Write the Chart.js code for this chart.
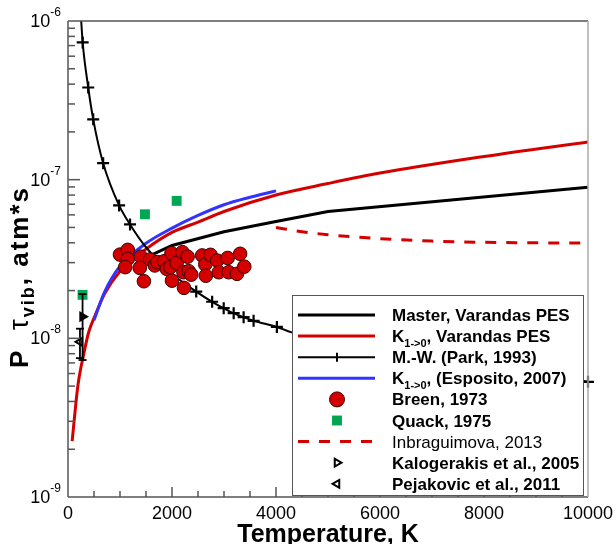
<!DOCTYPE html>
<html>
<head>
<meta charset="utf-8">
<script src="https://cdn.jsdelivr.net/npm/chart.js@4"></script>
<style>
body { margin: 0; background: #fff; }
canvas { display: block; }
</style>
</head>
<body>
<canvas id="chart" width="616" height="544"></canvas>
<script>
// Master equation, Varandas PES
const masterT = [1600, 2000, 3000, 4000, 5000, 10000];
const masterP = [3.35e-8, 3.85e-8, 4.7e-8, 5.45e-8, 6.3e-8, 8.97e-8];

// K1->0, Varandas PES
const kVarT = [80, 150, 200, 300, 400, 500, 700, 1000, 1500, 2000, 2500, 3000, 4000, 5000, 6000, 8000, 10000];
const kVarP = [2.25e-9, 3.85e-9, 5.3e-9, 7.9e-9, 1.1e-8, 1.34e-8, 1.9e-8, 2.65e-8, 3.65e-8, 4.65e-8, 5.4e-8, 6.3e-8, 8.0e-8, 9.45e-8, 1.1e-7, 1.4e-7, 1.73e-7];

// Millikan-White (Park, 1993)
const mwT = [250, 282, 389, 485, 676, 983, 1193, 1500, 2000, 2466, 2772, 2994, 3186, 3377, 3569, 4017, 4300, 10000];
const mwP = [1.05e-6, 7.33e-7, 3.81e-7, 2.4e-7, 1.27e-7, 6.88e-8, 5.22e-8, 3.75e-8, 2.55e-8, 1.97e-8, 1.7e-8, 1.55e-8, 1.44e-8, 1.36e-8, 1.29e-8, 1.18e-8, 1.09e-8, 5.32e-9];
const mwNoMarker = [250, 1500, 2000, 4300];

// K1->0 (Esposito, 2007)
const espT = [500, 700, 1000, 1500, 2000, 2500, 3000, 3500, 4000];
const espP = [1.3e-8, 1.95e-8, 2.85e-8, 3.97e-8, 4.95e-8, 5.95e-8, 6.95e-8, 7.75e-8, 8.5e-8];

// Breen, 1973
const breenT = [1000, 1150, 1150, 1100, 1400, 1380, 1460, 1580, 1670, 1720, 1850, 1900, 1990, 1970, 2000, 2090, 2200,
  2220, 2230, 2300, 2320, 2370, 2580, 2640, 2650, 2740, 2870, 2900, 3070, 3090, 3250, 3310, 3390];
const breenP = [3.37e-8, 3.61e-8, 3.17e-8, 2.81e-8, 3.27e-8, 2.78e-8, 2.29e-8, 3.14e-8, 2.88e-8, 3.02e-8, 3.06e-8, 2.74e-8,
  3.44e-8, 2.81e-8, 2.31e-8, 2.99e-8, 3.49e-8, 2.61e-8, 2.08e-8, 3.27e-8, 2.65e-8, 2.52e-8, 3.33e-8, 2.92e-8, 2.48e-8,
  3.36e-8, 3.09e-8, 2.61e-8, 3.21e-8, 2.61e-8, 2.55e-8, 3.41e-8, 2.83e-8];

// Quack, 1975
const quackT = [280, 1480, 2090];
const quackP = [1.88e-8, 6.05e-8, 7.35e-8];

// Inbraguimova, 2013
const ibrT = [4000, 4500, 5000, 6000, 7000, 8000, 9000, 10000];
const ibrP = [5.0e-8, 4.7e-8, 4.5e-8, 4.25e-8, 4.1e-8, 4.03e-8, 4.0e-8, 3.98e-8];

// Kalogerakis et al., 2005 and Pejakovic et al., 2011 (with error bars)
const kaloT = [280];
const kaloP = [1.37e-8];
const kaloLo = [7.3e-9];
const kaloHi = [1.9e-8];
const pejT = [230];
const pejP = [9.5e-9];
const pejLo = [7.5e-9];
const pejHi = [1.15e-8];

const xTicks = [0, 2000, 4000, 6000, 8000, 10000];
const yDecades = [-9, -8, -7, -6];

const RED = '#d40000';
const FONT = '"Liberation Sans", Arial, sans-serif';

const pts = (xs, ys) => xs.map((x, i) => ({ x, y: ys[i] }));

const datasets = [
  { label: 'Breen, 1973', data: pts(breenT, breenP), order: 0,
    pointStyle: 'circle', pointRadius: 6.8, backgroundColor: RED, borderColor: '#3a0000', borderWidth: 1 },
  { label: 'Quack, 1975', data: pts(quackT, quackP), order: 1,
    pointStyle: 'rect', pointRadius: 7, backgroundColor: '#00a651', borderWidth: 0 },
  { label: 'Kalogerakis et al., 2005', data: pts(kaloT, kaloP), order: 2,
    pointStyle: 'triangle', rotation: 90, pointRadius: 4.5, backgroundColor: '#000', borderColor: '#000', borderWidth: 2 },
  { label: 'Pejakovic et al., 2011', data: pts(pejT, pejP), order: 3,
    pointStyle: 'triangle', rotation: -90, pointRadius: 4.5, backgroundColor: '#fff', borderColor: '#000', borderWidth: 2 },
  { label: 'M.-W. (Park, 1993)', data: pts(mwT, mwP), order: 4, showLine: true,
    borderColor: '#000', borderWidth: 2, cubicInterpolationMode: 'monotone',
    pointStyle: 'cross', pointBorderWidth: 2.2, pointBorderColor: '#000',
    pointRadius: c => mwNoMarker.includes(mwT[c.dataIndex]) ? 0 : 6,
    clip: { left: 0, top: 0, right: 10, bottom: 0 } },
  { label: 'K1->0, (Esposito, 2007)', data: pts(espT, espP), order: 5, showLine: true,
    borderColor: '#3333ff', borderWidth: 3, pointRadius: 0, cubicInterpolationMode: 'monotone' },
  { label: 'K1->0, Varandas PES', data: pts(kVarT, kVarP), order: 6, showLine: true,
    borderColor: RED, borderWidth: 3, pointRadius: 0, cubicInterpolationMode: 'monotone', clip: 0 },
  { label: 'Master, Varandas PES', data: pts(masterT, masterP), order: 7, showLine: true,
    borderColor: '#000', borderWidth: 3, pointRadius: 0, tension: 0 },
  { label: 'Inbraguimova, 2013', data: pts(ibrT, ibrP), order: 8, showLine: true,
    borderColor: RED, borderWidth: 3, borderDash: [11, 10], pointRadius: 0, cubicInterpolationMode: 'monotone' }
];

function rich(ctx, parts, x, y, align) {
  // parts: [text, size, bold, dy]
  const f = p => (p[2] ? 'bold ' : '') + p[1] + 'px ' + FONT;
  let w = 0;
  parts.forEach(p => { ctx.font = f(p); w += ctx.measureText(p[0]).width; });
  let cx = align === 'right' ? x - w : align === 'center' ? x - w / 2 : x;
  parts.forEach(p => {
    ctx.font = f(p);
    ctx.fillText(p[0], cx, y + (p[3] || 0));
    cx += ctx.measureText(p[0]).width;
  });
}

function seg(ctx, x1, y1, x2, y2) {
  ctx.beginPath(); ctx.moveTo(x1, y1); ctx.lineTo(x2, y2); ctx.stroke();
}

const errorBars = {
  id: 'errorBars',
  afterDatasetsDraw(chart) {
    const { ctx, scales: { x, y } } = chart;
    ctx.save();
    ctx.strokeStyle = '#000';
    ctx.lineWidth = 1.8;
    [[kaloT, kaloLo, kaloHi], [pejT, pejLo, pejHi]].forEach(([ts, lo, hi]) => {
      ts.forEach((t, i) => {
        const px = x.getPixelForValue(t);
        const y1 = y.getPixelForValue(lo[i]), y2 = y.getPixelForValue(hi[i]);
        seg(ctx, px, y1, px, y2);
        seg(ctx, px - 4, y1, px + 4, y1);
        seg(ctx, px - 4, y2, px + 4, y2);
      });
    });
    ctx.restore();
  }
};

const frame = {
  id: 'frame',
  afterDraw(chart) {
    const { ctx, chartArea: a, scales: { x, y } } = chart;
    ctx.save();
    ctx.strokeStyle = '#555';
    ctx.lineWidth = 1.5;
    // x ticks, inward
    for (let t = 500; t < 10000; t += 500) {
      const px = x.getPixelForValue(t);
      seg(ctx, px, a.bottom, px, a.bottom - (t % 2000 === 0 ? 10 : 6));
    }
    // y ticks, inward on the left axis
    for (let e = -9; e < -6; e++) {
      for (let m = 1; m <= 9; m++) {
        if (m === 1 && e === -9) continue;
        const py = y.getPixelForValue(m * Math.pow(10, e));
        seg(ctx, a.left, py, a.left + (m === 1 ? 12 : 7), py);
      }
    }
    // frame
    seg(ctx, a.left, a.top, a.left, a.bottom);
    seg(ctx, a.left, a.bottom, a.right, a.bottom);
    seg(ctx, a.left, a.top, a.right, a.top);
    ctx.strokeStyle = '#aaa';
    seg(ctx, a.right, a.top, a.right, a.bottom);

    // tick labels
    ctx.fillStyle = '#000';
    ctx.textBaseline = 'alphabetic';
    ctx.textAlign = 'left';
    xTicks.forEach(t => rich(ctx, [[String(t), 18, false]], x.getPixelForValue(t), a.bottom + 22, 'center'));
    yDecades.forEach(e => {
      const py = y.getPixelForValue(Math.pow(10, e));
      rich(ctx, [['10', 18, false], [String(e), 12, false, -11]], a.left - 7, py + 6, 'right');
    });

    // axis titles
    rich(ctx, [['Temperature, K', 25, true]], (a.left + a.right) / 2, 542, 'center');
    ctx.save();
    ctx.translate(28, 277);
    ctx.rotate(-Math.PI / 2);
    ctx.letterSpacing = '2px';
    rich(ctx, [['P  ', 26, true], ['\u03c4', 28, false], ['vib', 18, true, 6], [', atm*s', 26, true]], 0, 0, 'center');
    ctx.restore();

    // legend
    const lx = 292.5, ly = 295.5, lw = 291, lh = 200;
    ctx.fillStyle = '#fff';
    ctx.fillRect(lx, ly, lw, lh);
    ctx.strokeStyle = '#555';
    ctx.lineWidth = 1;
    ctx.strokeRect(lx, ly, lw, lh);

    const rows = [
      { ds: 7, text: [['Master, Varandas PES', 17, true]] },
      { ds: 6, text: [['K', 17, true], ['1->0', 11, true, 5], [', Varandas PES', 17, true]] },
      { ds: 4, text: [['M.-W. (Park, 1993)', 17, true]], tick: true },
      { ds: 5, text: [['K', 17, true], ['1->0', 11, true, 5], [', (Esposito, 2007)', 17, true]] },
      { ds: 0, text: [['Breen, 1973', 17, true]], point: true, r: 7.5 },
      { ds: 1, text: [['Quack, 1975', 17, true]], point: true },
      { ds: 8, text: [['Inbraguimova, 2013', 17, false]] },
      { ds: 2, text: [['Kalogerakis et al., 2005', 17, true]], point: true, fill: '#fff' },
      { ds: 3, text: [['Pejakovic et al., 2011', 17, true]], point: true }
    ];
    rows.forEach((r, i) => {
      const cy = 315 + i * 21.1;
      const d = datasets[r.ds];
      const mx = 337;
      if (r.point) {
        ctx.save();
        ctx.fillStyle = r.fill || d.backgroundColor;
        ctx.strokeStyle = d.borderColor || d.backgroundColor;
        ctx.lineWidth = d.borderWidth;
        Chart.helpers.drawPoint(ctx, {
          pointStyle: d.pointStyle, rotation: d.rotation || 0,
          radius: r.r || d.pointRadius, borderWidth: d.borderWidth
        }, mx, cy);
        ctx.restore();
      } else {
        ctx.save();
        ctx.strokeStyle = d.borderColor;
        ctx.lineWidth = d.borderWidth;
        ctx.setLineDash(d.borderDash || []);
        seg(ctx, 298, cy, 375, cy);
        if (r.tick) seg(ctx, mx, cy - 4.5, mx, cy + 4.5);
        ctx.restore();
      }
      ctx.fillStyle = '#000';
      rich(ctx, r.text, 392, cy + 6, 'left');
    });
    ctx.restore();
  }
};

new Chart(document.getElementById('chart'), {
  type: 'scatter',
  data: { datasets },
  options: {
    responsive: false,
    animation: false,
    devicePixelRatio: 1,
    layout: { padding: { left: 68, top: 21, right: 28, bottom: 47 } },
    plugins: { legend: { display: false }, tooltip: { enabled: false } },
    scales: {
      x: { type: 'linear', min: 0, max: 10000, display: false },
      y: { type: 'logarithmic', min: 1e-9, max: 1e-6, display: false }
    }
  },
  plugins: [errorBars, frame]
});
</script>
</body>
</html>
